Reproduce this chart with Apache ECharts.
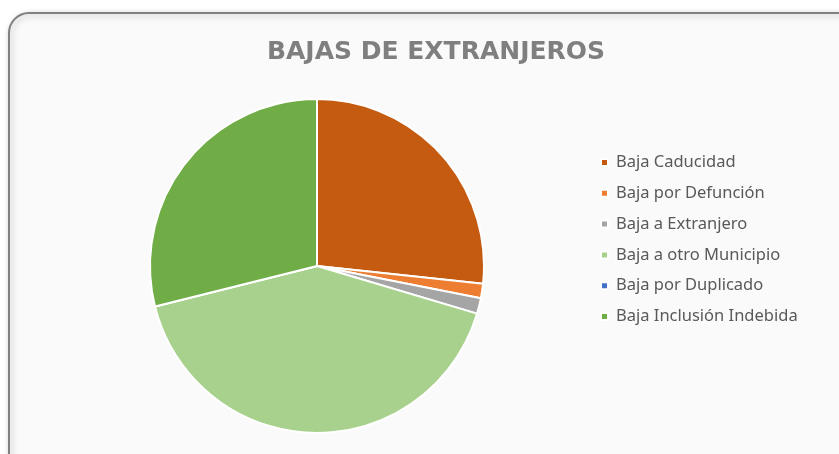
<!DOCTYPE html>
<html><head><meta charset="utf-8">
<script src="https://cdn.jsdelivr.net/npm/echarts@6/dist/echarts.min.js"></script>
<style>html,body{margin:0;padding:0;background:#fff}#c{width:839px;height:454px}</style>
</head><body><div id="c"></div>
<script>
const titleText = 'BAJAS DE EXTRANJEROS';
const categories = ['Baja Caducidad','Baja por Defunción','Baja a Extranjero','Baja a otro Municipio','Baja por Duplicado','Baja Inclusión Indebida'];
const values = [267, 14, 15, 415, 0, 289];
const colors = ['#C55A11','#ED7D31','#A5A5A5','#A9D18E','#4472C4','#70AD47'];

const chart = echarts.init(document.getElementById('c'));
chart.setOption({
  backgroundColor: '#ffffff',
  animation: false,
  color: colors,
  graphic: [{
    type: 'rect', z: -10, silent: true,
    shape: { x: 9, y: 13, width: 850, height: 460, r: 20 },
    style: { fill: '#fafafa', stroke: '#808080', lineWidth: 2, shadowBlur: 6, shadowColor: 'rgba(0,0,0,0.25)', shadowOffsetX: 2, shadowOffsetY: 2 }
  }],
  title: {
    text: titleText, left: 431, top: 35, textAlign: 'center',
    textStyle: { fontFamily: 'DejaVu Sans', fontWeight: 'bold', fontSize: 25, color: '#7f7f7f' }
  },
  legend: {
    orient: 'vertical', left: 595, top: 149,
    itemWidth: 7, itemHeight: 7, itemGap: 13.8, icon: 'rect',
    data: categories,
    textStyle: { fontFamily: 'Noto Sans', fontSize: 16.5, color: '#595959', lineHeight: 17, padding: [0,0,0,3] }
  },
  series: [{
    type: 'pie', center: [317, 266], radius: 167, startAngle: 90, clockwise: true,
    label: { show: false }, labelLine: { show: false },
    itemStyle: { borderColor: '#ffffff', borderWidth: 2 },
    emphasis: { disabled: true },
    data: categories.map((n, i) => ({ name: n, value: values[i] }))
  }]
});
</script></body></html>
